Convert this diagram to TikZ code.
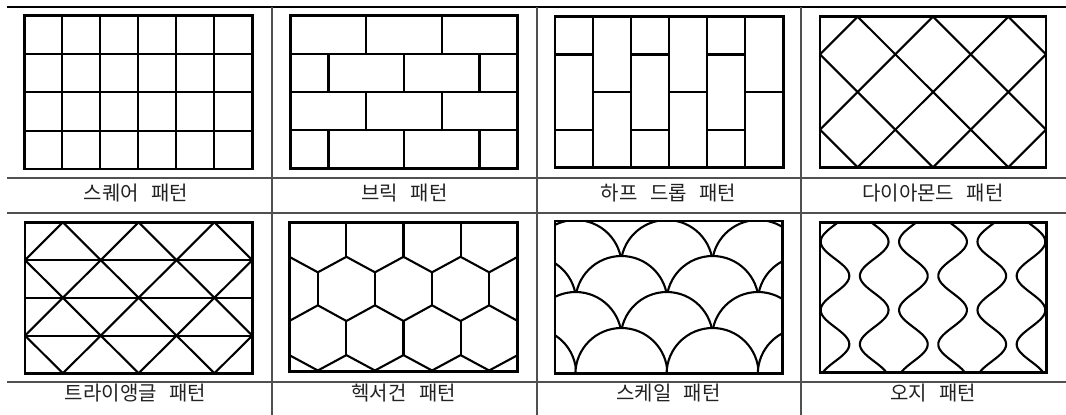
\documentclass[tikz,border=0pt]{standalone}
\usepackage{fontspec}
\usepackage{xcolor}
\usepackage{tikz}
\usetikzlibrary{positioning, calc}
\newfontfamily\krfont[WordSpace=2.8]{Noto Sans CJK KR}
\definecolor{rulegray}{HTML}{505050}
\definecolor{labelgray}{HTML}{222222}

\tikzset{
  tile/.style={line width=2.1pt, line join=miter},
  tileframe/.style={line width=2.6pt},
  tablerule/.style={draw=rulegray, line width=1.1pt},
  patlabel/.style={inner sep=0pt, text=labelgray, font=\krfont\fontsize{20}{22}\selectfont},
}

\begin{document}
\begin{tikzpicture}[x=1pt, y=-1pt]
  \useasboundingbox (0,0) rectangle (1066,415);

  % table rules
  \draw[line width=2.4pt] (7,7) -- (1066,7);
  \foreach \y in {178,213,382} \draw[tablerule] (7,\y) -- (1066,\y);
  \foreach \x in {272,537,801} \draw[tablerule] (\x,7) -- (\x,415);

  % square pattern
  \begin{scope}[shift={(24.3,15.7)}]
    \foreach \i in {1,...,5} \draw[tile] (\i*38,0) -- (\i*38,153.3);
    \foreach \j in {1,2,3} \draw[tile] (0,\j*38.33) -- (228,\j*38.33);
    \draw[tileframe] (0,0) rectangle (228,153.3);
  \end{scope}

  % brick pattern
  \begin{scope}[shift={(290.7,15.7)}]
    \foreach \j in {1,2,3} \draw[tile] (0,\j*38.15) -- (226.6,\j*38.15);
    \foreach \j in {0,2} \foreach \i in {1,2}
      \draw[tile] (\i*75.53,\j*38.15) -- ++(0,38.15);
    \foreach \j in {1,3} \foreach \i in {0,1,2}
      \draw[tile] (37.77+\i*75.53,\j*38.15) -- ++(0,38.15);
    \draw[tileframe] (0,0) rectangle (226.6,152.6);
  \end{scope}

  % half drop pattern
  \begin{scope}[shift={(555,16.7)}]
    \foreach \i in {1,...,5} \draw[tile] (\i*38.05,0) -- (\i*38.05,151);
    \foreach \i in {0,2,4} {
      \draw[tile] (\i*38.05,37.75) -- ++(38.05,0);
      \draw[tile] (\i*38.05,113.25) -- ++(38.05,0);
    }
    \foreach \i in {1,3,5} \draw[tile] (\i*38.05,75.5) -- ++(38.05,0);
    \draw[tileframe] (0,0) rectangle (228.3,151);
  \end{scope}

  % diamond pattern
  \begin{scope}[shift={(820,16.7)}, x=37.67pt, y=-37.65pt]
    \begin{scope}
      \clip (0,0) rectangle (6,4);
      \foreach \s in {1,3,5,7,9} \draw[tile] (\s+1,-1) -- (\s-5,5);
      \foreach \d in {-3,-1,1,3,5} \draw[tile] (\d-1,-1) -- (\d+5,5);
    \end{scope}
    \draw[tileframe] (0,0) rectangle (6,4);
  \end{scope}

  % triangle pattern
  \begin{scope}[shift={(25,222.3)}, x=37.88pt, y=-37.75pt]
    \begin{scope}
      \clip (0,0) rectangle (6,4);
      \foreach \s in {1,3,5,7,9} \draw[tile] (\s+1,-1) -- (\s-5,5);
      \foreach \d in {-3,-1,1,3,5} \draw[tile] (\d-1,-1) -- (\d+5,5);
      \foreach \j in {1,2,3} \draw[tile] (0,\j) -- (6,\j);
    \end{scope}
    \draw[tileframe] (0,0) rectangle (6,4);
  \end{scope}

  % hexagon pattern
  \begin{scope}[shift={(289.3,222.5)}]
    \foreach \k in {1,2,3} \draw[tile] (2*\k*28.55,0) -- (2*\k*28.55,34.3);
    \draw[tile] (0,34.3) \foreach \k in {1,...,4} { -- (2*\k*28.55-28.55,49.8) -- (2*\k*28.55,34.3) };
    \foreach \k in {1,...,4} \draw[tile] (2*\k*28.55-28.55,49.8) -- (2*\k*28.55-28.55,82.8);
    \draw[tile] (0,98.5) \foreach \k in {1,...,4} { -- (2*\k*28.55-28.55,82.8) -- (2*\k*28.55,98.5) };
    \foreach \k in {1,2,3} \draw[tile] (2*\k*28.55,98.5) -- (2*\k*28.55,132.6);
    \draw[tile] (0,132.6) \foreach \k in {1,...,4} { -- (2*\k*28.55-28.55,148) -- (2*\k*28.55,132.6) };
    \draw[tileframe] (0,0) rectangle (228.4,149.2);
  \end{scope}

  % scale pattern
  \begin{scope}[shift={(555,221)}]
    \begin{scope}
      \clip (0,0) rectangle (227.7,152.3);
      \foreach \cy/\cx in {45/20.6, 81/-24.8, 117/20.6, 153/-24.8}
        \foreach \i in {0,...,3}
          \draw[tile, fill=white] (\cx+\i*91.2,\cy) circle[radius=46];
    \end{scope}
    \draw[tileframe] (0,0) rectangle (227.7,152.3);
  \end{scope}

  % ogee pattern
  \begin{scope}[shift={(820,222.7)}]
    \begin{scope}
      \clip (0,0) rectangle (226.7,149.6);
      \foreach \k in {0,...,5} {
        \pgfmathsetmacro\ctr{15+39.2*\k}
        \pgfmathsetmacro\amp{14.3*(2*mod(\k,2)-1)}
        \draw[tile] plot[variable=\t, domain=0:150, samples=121]
          ({\ctr+\amp*cos((\t-19)/68.4*360)}, {\t});
      }
    \end{scope}
    \draw[tileframe] (0,0) rectangle (226.7,149.6);
  \end{scope}

  % labels
  \node[patlabel] (lblsquare)   at (136,193.3)   {스퀘어 패턴};
  \node[patlabel] (lblbrick)    at (404.6,193.3) {브릭 패턴};
  \node[patlabel] (lblhalfdrop) at (668.6,193.3) {하프 드롭 패턴};
  \node[patlabel] (lbldiamond)  at (933,193.3)   {다이아몬드 패턴};
  \node[patlabel] (lbltriangle) at (135.5,393.3) {트라이앵글 패턴};
  \node[patlabel] (lblhexagon)  at (403.8,393.3) {헥서건 패턴};
  \node[patlabel] (lblscale)    at (668.5,393.3) {스케일 패턴};
  \node[patlabel] (lblogee)     at (933.3,393.3) {오지 패턴};
\end{tikzpicture}
\end{document}
